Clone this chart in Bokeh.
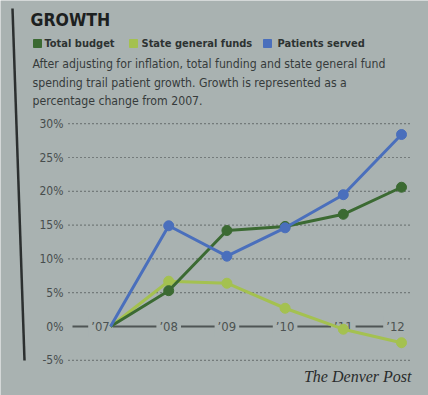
from bokeh.plotting import figure
from bokeh.models import Range1d
from bokeh.embed import file_html
from bokeh.resources import INLINE
from bokeh.core.properties import value

# ---- data ----
years = [2007, 2008, 2009, 2010, 2011, 2012]
year_labels = ["’07", "’08", "’09", "’10", "’11", "’12"]
total_budget = [0, 5.3, 14.2, 14.8, 16.6, 20.6]
state_general_funds = [0, 6.7, 6.4, 2.7, -0.4, -2.4]
patients_served = [0, 14.9, 10.4, 14.6, 19.5, 28.4]
y_ticks = [-5, 0, 5, 10, 15, 20, 25, 30]
y_tick_labels = ["-5%", "0%", "5%", "10%", "15%", "20%", "25%", "30%"]
series_names = ["Total budget", "State general funds", "Patients served"]

# ---- style ----
BG = "#a9b2b1"
C_TOTAL = "#3b6a32"
C_STATE = "#a4c150"
C_PAT = "#4a6fbc"
C_TEXT = "#363b3b"
C_DARK = "#1c2020"
SANS = value("DejaVu Sans Condensed, Roboto Condensed, Roboto")

W, H = 428, 395
PX_YEAR = 58.2   # px per year
PX_PCT = 6.76    # px per percentage point
X0_PX = 110      # x of 2007
Y0_PX = 326      # y (from top) of 0%

def dx(px):
    return 2007 + (px - X0_PX) / PX_YEAR

def dy(py):
    return (Y0_PX - py) / PX_PCT

p = figure(width=W, height=H, output_backend="svg", toolbar_location=None,
           x_range=Range1d(dx(0), dx(W)), y_range=Range1d(dy(H), dy(0)),
           x_axis_location=None, y_axis_location=None, min_border=0)
p.grid.visible = False
p.outline_line_color = None
p.background_fill_color = BG
p.border_fill_color = BG

# column rule (slightly slanted as in the photo)
p.segment(x0=[dx(12)], y0=[dy(8)], x1=[dx(24)], y1=[dy(360)],
          line_color="#2b2f2f", line_width=2.5)

# dotted gridlines
grid_vals = [t for t in y_ticks if t != 0]
p.segment(x0=[dx(68)] * len(grid_vals), y0=grid_vals,
          x1=[dx(411)] * len(grid_vals), y1=grid_vals,
          line_color="#3e4444", line_width=1.2, line_dash="1 3")

# y tick labels
p.text(x=[dx(63)] * len(y_ticks), y=y_ticks, text=y_tick_labels,
       text_align="right", text_baseline="middle",
       text_font=SANS, text_font_size="12px", text_color="#474d4d")

# x axis line with year labels
p.segment(x0=[dx(72)], y0=[0], x1=[dx(398)], y1=[0],
          line_color="#4f5555", line_width=2)
p.text(x=years, y=[0] * len(years), text=year_labels,
       x_offset=[-10, 0, 0, 0, 0, -6],
       text_align="center", text_baseline="middle",
       text_font=SANS, text_font_size="13px",
       text_color="#4c5252", background_fill_color=BG, padding=3)

# series
for vals, col in [(state_general_funds, C_STATE), (total_budget, C_TOTAL),
                  (patients_served, C_PAT)]:
    p.line(years, vals, line_color=col, line_width=3)
    p.scatter(years[1:], vals[1:], size=10, color=col)

# title
p.text(x=[dx(30)], y=[dy(19)], text=["GROWTH"], text_baseline="middle",
       text_font=SANS, text_font_style="bold",
       text_font_size="17.5px", text_color=C_DARK)

# legend
leg_sq_x = [dx(37), dx(133), dx(267)]
leg_tx_x = [dx(44), dx(141), dx(277)]
p.scatter(x=leg_sq_x, y=[dy(43)] * 3, marker="square", size=8,
          color=[C_TOTAL, C_STATE, C_PAT])
p.text(x=leg_tx_x, y=[dy(43)] * 3, text=series_names, text_baseline="middle",
       text_font=SANS, text_font_style="bold",
       text_font_size="11px", text_color="#2d3232")

# subtitle
sub_lines = ["After adjusting for inflation, total funding and state general fund",
             "spending trail patient growth. Growth is represented as a",
             "percentage change from 2007."]
p.text(x=[dx(32)] * 3, y=[dy(63), dy(82), dy(100)], text=sub_lines,
       text_baseline="middle", text_font=SANS,
       text_font_size="12.2px", text_color=C_TEXT)

# credit
p.text(x=[dx(411)], y=[dy(376)], text=["The Denver Post"], text_align="right",
       text_baseline="middle", text_font=value("Liberation Serif"),
       text_font_style="italic", text_font_size="16px", text_color="#2a2c2c")

open("out.html", "w").write(file_html(p, INLINE))
